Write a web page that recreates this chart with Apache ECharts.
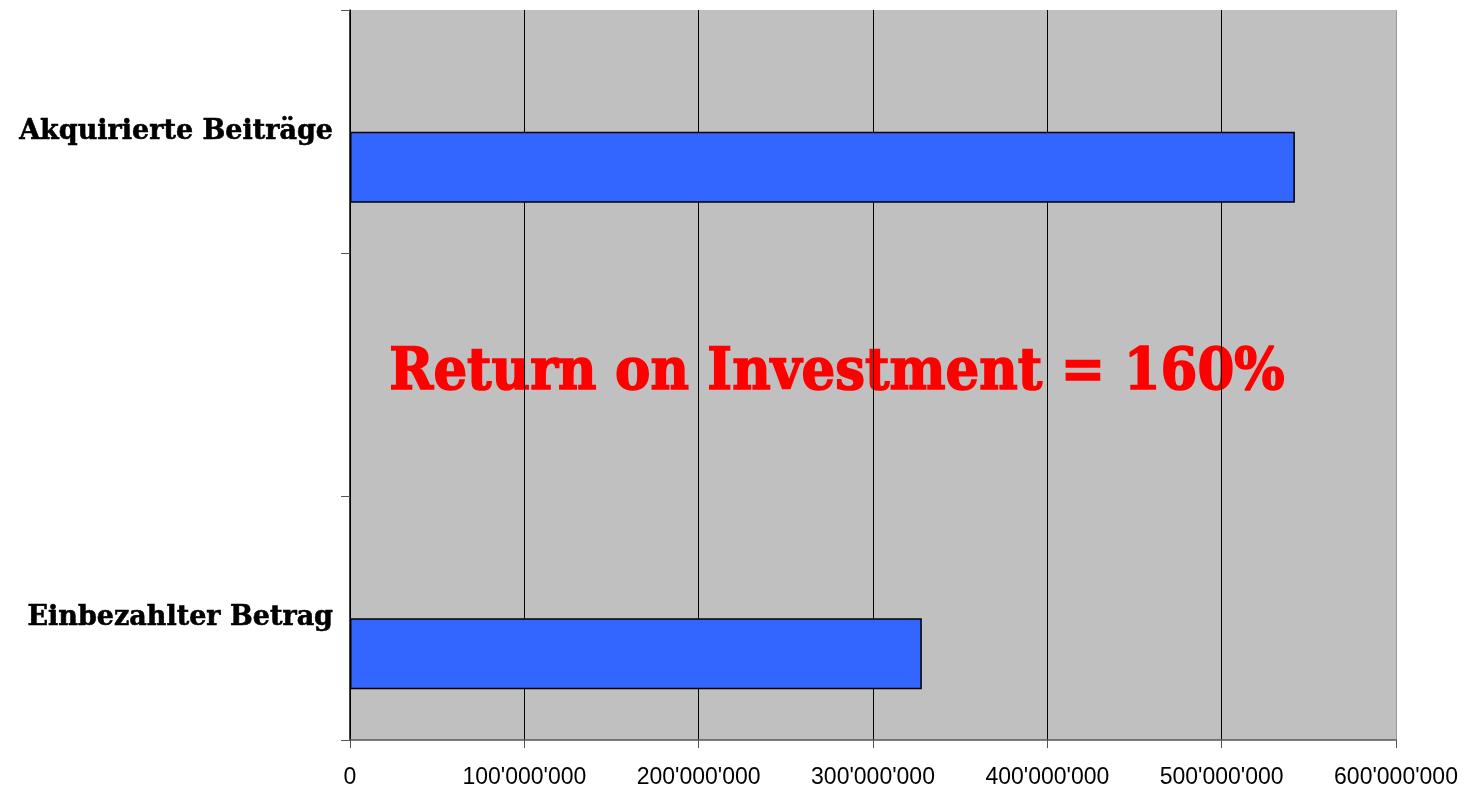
<!DOCTYPE html>
<html>
<head>
<meta charset="utf-8">
<script src="https://cdn.jsdelivr.net/npm/echarts@6/dist/echarts.min.js"></script>
<style>html,body{margin:0;padding:0;background:#fff;}#c{width:1470px;height:790px;}</style>
</head>
<body>
<div id="c"></div>
<script>
const categories = ["Einbezahlter Betrag", "", "Akquirierte Beiträge"];
const values = [328000000, null, 542000000];
const emptySeries = [null, null, null];
const xTicks = [0, 100000000, 200000000, 300000000, 400000000, 500000000, 600000000];
const annotation = "Return on Investment = 160%";

function fmt(v) {
  return String(v).replace(/\B(?=(\d{3})+(?!\d))/g, "'");
}

const chart = echarts.init(document.getElementById('c'));
chart.setOption({
  animation: false,
  backgroundColor: '#ffffff',
  grid: { left: 350, right: 74, top: 10, bottom: 50, show: true, backgroundColor: '#C0C0C0', borderWidth: 0 },
  xAxis: {
    type: 'value', min: xTicks[0], max: xTicks[xTicks.length - 1], interval: 100000000,
    axisLine: { show: true, lineStyle: { color: '#555', width: 1.5 } },
    axisTick: { show: true, length: 8, lineStyle: { color: '#555' } },
    axisLabel: { formatter: fmt, fontFamily: 'Liberation Sans, Arial, sans-serif', fontSize: 23, color: '#000', margin: 26 },
    splitLine: { show: true, lineStyle: { color: ['#000', '#000', '#000', '#000', '#000', '#000', '#999'], width: 1 } }
  },
  yAxis: {
    type: 'category', data: categories,
    axisLine: { show: true, lineStyle: { color: '#000', width: 1.5 } },
    axisTick: { show: true, length: 9, lineStyle: { color: '#555' } },
    axisLabel: { fontFamily: 'DejaVu Serif, serif', fontWeight: 'bold', fontSize: 27, color: '#000', margin: 17,
      textBorderColor: '#000', textBorderWidth: 0.6 },
    splitLine: { show: false }
  },
  series: [
    { type: 'bar', data: emptySeries, barWidth: 71, barGap: '0%' },
    { type: 'bar', data: values, barWidth: 71, barGap: '0%',
      itemStyle: { color: '#3366FF', borderColor: '#000', borderWidth: 1.5 } }
  ],
  graphic: [{
    type: 'text', x: 837, y: 374, scaleY: 1.1,
    style: { text: annotation, fill: '#FF0000', stroke: '#FF0000', lineWidth: 1.5,
      font: 'bold 53px "DejaVu Serif", serif', textAlign: 'center', textVerticalAlign: 'middle' }
  }]
});
</script>
</body>
</html>
